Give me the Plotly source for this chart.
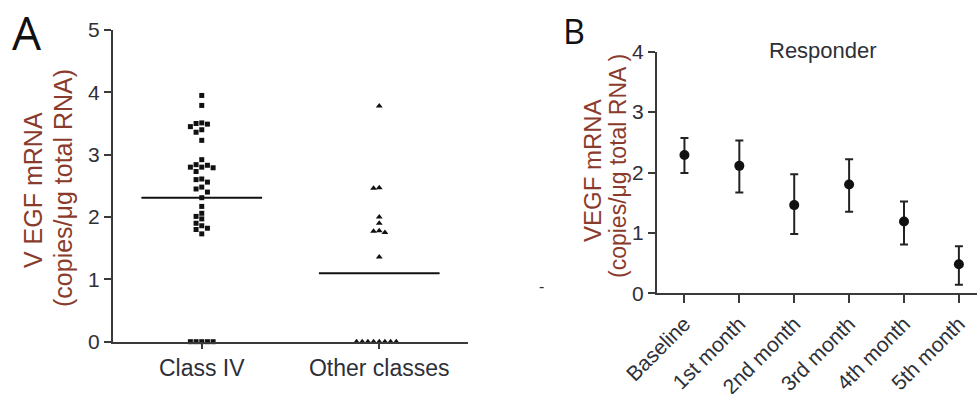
import plotly.graph_objects as go

# ---------------- data ----------------
classes = ["Class IV", "Other classes"]
class_iv_values = [3.95, 3.79, 3.51, 3.49, 3.50, 3.45, 3.40, 3.36, 3.23, 2.92,
                   2.84, 2.83, 2.80, 2.79, 2.80, 2.73, 2.61, 2.60, 2.56, 2.48,
                   2.45, 2.40, 2.31, 2.17, 2.06, 2.01, 1.97, 1.90, 1.86, 1.82,
                   1.80, 1.73, 0, 0, 0, 0, 0]
other_values = [3.78, 2.47, 2.46, 2.00, 1.90, 1.78, 1.77, 1.75, 1.36,
                0, 0, 0, 0, 0, 0, 0, 0]
group_means = [2.31, 1.10]

months = ["Baseline", "1st month", "2nd month", "3rd month", "4th month", "5th month"]
resp_mean = [2.29, 2.11, 1.46, 1.80, 1.19, 0.48]
resp_upper = [2.57, 2.53, 1.97, 2.22, 1.52, 0.78]
resp_lower = [1.99, 1.67, 0.98, 1.35, 0.81, 0.14]

# ---------------- helpers ----------------
W, H = 977, 394
AXC = "#3a3a3a"
TXT = "#2e3038"
TITLEC = "#8a3b2c"
NARROW = "Liberation Sans Narrow, Arial Narrow, Liberation Sans, Arial, sans-serif"
SANS = "Liberation Sans, Arial, sans-serif"


def swarm(values, center, step=0.032, thr=0.09):
    """simple deterministic beeswarm offsets"""
    order = sorted(range(len(values)), key=lambda i: -values[i])
    placed = []
    xs = [0.0] * len(values)
    for i in order:
        y = values[i]
        for k in [0, -1, 1, -2, 2, -3, 3, -4, 4, -5, 5]:
            ok = True
            for (yy, kk) in placed:
                if abs(yy - y) < thr and abs(kk - k) < 1:
                    ok = False
                    break
            if ok:
                placed.append((y, k))
                xs[i] = center + k * step
                break
    return xs


fig = go.Figure()

# Panel A points
fig.add_trace(go.Scatter(
    x=swarm(class_iv_values, 0), y=class_iv_values, mode="markers",
    marker=dict(symbol="square", size=5, color="#111"),
    cliponaxis=False, xaxis="x", yaxis="y", showlegend=False))
fig.add_trace(go.Scatter(
    x=swarm(other_values, 1), y=other_values, mode="markers",
    marker=dict(symbol="triangle-up", size=6, color="#111"),
    cliponaxis=False, xaxis="x", yaxis="y", showlegend=False))
half = 0.34
for i, m in enumerate(group_means):
    fig.add_trace(go.Scatter(
        x=[i - half, i + half], y=[m, m], mode="lines",
        line=dict(color="#111", width=2), xaxis="x", yaxis="y", showlegend=False))

# Panel B
fig.add_trace(go.Scatter(
    x=list(range(len(months))), y=resp_mean, mode="markers",
    marker=dict(symbol="circle", size=10, color="#111"),
    error_y=dict(type="data", symmetric=False,
                 array=[u - m for u, m in zip(resp_upper, resp_mean)],
                 arrayminus=[m - l for m, l in zip(resp_mean, resp_lower)],
                 color="#222", thickness=2, width=4),
    cliponaxis=False, xaxis="x2", yaxis="y2", showlegend=False))

axis_common = dict(showline=True, linecolor=AXC, linewidth=2, ticks="outside",
                   tickcolor=AXC, tickwidth=2, showgrid=False, zeroline=False,
                   automargin=False)

fig.update_layout(
    width=W, height=H, margin=dict(l=0, r=0, t=0, b=0, pad=0, autoexpand=False),
    paper_bgcolor="white", plot_bgcolor="white",
    xaxis=dict(domain=[113 / W, 468 / W], range=[-0.5, 1.5], tickvals=[0, 1],
               ticktext=classes, ticklen=5, anchor="y",
               tickfont=dict(family=NARROW, size=23, color=TXT), **axis_common),
    yaxis=dict(domain=[(H - 341.7) / H, (H - 30) / H], range=[0, 5], dtick=1,
               ticklen=7, anchor="x",
               tickfont=dict(family=SANS, size=21, color=TXT), **axis_common),
    xaxis2=dict(domain=[657 / W, 1.0], range=[-0.5, 5.33],
                tickvals=list(range(len(months))), ticktext=months, tickangle=-45,
                ticklen=8, anchor="y2",
                tickfont=dict(family=SANS, size=21, color=TXT), **axis_common),
    yaxis2=dict(domain=[(H - 293.3) / H, (H - 51.7) / H], range=[0, 4], dtick=1,
                ticklen=7, anchor="x2",
                tickfont=dict(family=SANS, size=21, color=TXT), **axis_common),
    annotations=[
        dict(text="A", x=10 / W, y=1 - 32 / H, xref="paper", yref="paper",
             xanchor="left", yanchor="middle", showarrow=False,
             font=dict(family="Open Sans, sans-serif", size=46, color="#111")),
        dict(text="B", x=561 / W, y=1 - 31 / H, xref="paper", yref="paper",
             xanchor="left", yanchor="middle", showarrow=False,
             font=dict(family="Open Sans, sans-serif", size=34, color="#111")),
        dict(text="V EGF mRNA", x=33 / W, y=1 - 190 / H, xref="paper", yref="paper",
             xanchor="center", yanchor="middle", showarrow=False, textangle=-90,
             font=dict(family=SANS, size=25, color=TITLEC)),
        dict(text="(copies/\u03bcg total RNA)", x=63 / W, y=1 - 188 / H,
             xref="paper", yref="paper", xanchor="center", yanchor="middle",
             showarrow=False, textangle=-90,
             font=dict(family=SANS, size=25, color=TITLEC)),
        dict(text="VEGF mRNA", x=592 / W, y=1 - 171 / H, xref="paper", yref="paper",
             xanchor="center", yanchor="middle", showarrow=False, textangle=-90,
             font=dict(family=SANS, size=24, color=TITLEC)),
        dict(text="(copies/\u03bcg total RNA )", x=618 / W, y=1 - 166 / H,
             xref="paper", yref="paper", xanchor="center", yanchor="middle",
             showarrow=False, textangle=-90,
             font=dict(family=SANS, size=23, color=TITLEC)),
        dict(text="Responder", x=823 / W, y=1 - 50 / H, xref="paper", yref="paper",
             xanchor="center", yanchor="middle", showarrow=False,
             font=dict(family=SANS, size=22, color=TXT)),
        dict(text="-", x=541 / W, y=1 - 286 / H, xref="paper", yref="paper",
             xanchor="center", yanchor="middle", showarrow=False,
             font=dict(family=SANS, size=16, color="#333")),
    ],
)

fig.write_html("out.html", config={"displayModeBar": False},
               post_script="document.body.style.margin='0';"
                           "document.body.style.overflow='hidden';")
